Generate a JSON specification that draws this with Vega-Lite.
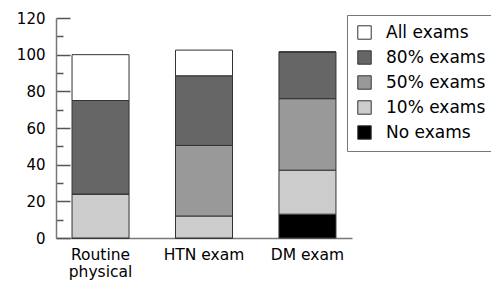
{
  "$schema": "https://vega.github.io/schema/vega-lite/v6.json",
  "autosize": {"type": "none"},
  "padding": {"left": 56, "top": 18, "right": 139, "bottom": 45},
  "width": 296,
  "height": 220,
  "background": "white",
  "config": {"view": {"stroke": null}, "font": "DejaVu Sans"},
  "data": {"values": [
    {"cat": "Routine physical", "level": "No exams", "ord": 1, "pct": 0},
    {"cat": "Routine physical", "level": "10% exams", "ord": 2, "pct": 24},
    {"cat": "Routine physical", "level": "50% exams", "ord": 3, "pct": 0},
    {"cat": "Routine physical", "level": "80% exams", "ord": 4, "pct": 51},
    {"cat": "Routine physical", "level": "All exams", "ord": 5, "pct": 25},
    {"cat": "HTN exam", "level": "No exams", "ord": 1, "pct": 0},
    {"cat": "HTN exam", "level": "10% exams", "ord": 2, "pct": 12},
    {"cat": "HTN exam", "level": "50% exams", "ord": 3, "pct": 38.5},
    {"cat": "HTN exam", "level": "80% exams", "ord": 4, "pct": 38},
    {"cat": "HTN exam", "level": "All exams", "ord": 5, "pct": 14},
    {"cat": "DM exam", "level": "No exams", "ord": 1, "pct": 13},
    {"cat": "DM exam", "level": "10% exams", "ord": 2, "pct": 24},
    {"cat": "DM exam", "level": "50% exams", "ord": 3, "pct": 39},
    {"cat": "DM exam", "level": "80% exams", "ord": 4, "pct": 25.5},
    {"cat": "DM exam", "level": "All exams", "ord": 5, "pct": 0}
  ]},
  "mark": {"type": "bar", "stroke": "#333", "strokeWidth": 1},
  "encoding": {
    "x": {
      "field": "cat", "type": "nominal", "sort": null,
      "scale": {"paddingInner": 0.449, "paddingOuter": 0.155},
      "axis": {
        "title": null, "labelAngle": 0, "ticks": false, "domainColor": "#777", "domainWidth": 1.5,
        "labelFont": "DejaVu Sans", "labelFontSize": 15.5, "labelColor": "#000", "labelPadding": 9,
        "labelExpr": "datum.label == 'Routine physical' ? ['Routine', 'physical'] : datum.label",
        "labelLineHeight": 17
      }
    },
    "y": {
      "field": "pct", "type": "quantitative", "stack": "zero",
      "scale": {"domain": [0, 120], "nice": false},
      "axis": {
        "title": null, "grid": false,
        "values": [0, 10, 20, 30, 40, 50, 60, 70, 80, 90, 100, 110, 120],
        "labelExpr": "datum.value % 20 === 0 ? datum.label : ''",
        "tickSize": {"condition": {"test": "datum.value % 20 === 0", "value": -14}, "value": -7},
        "tickColor": "#555", "tickWidth": 1.5,
        "domainColor": "#777", "domainWidth": 1.5,
        "labelFont": "DejaVu Sans", "labelFontSize": 15, "labelColor": "#000",
        "labelPadding": 25
      }
    },
    "color": {
      "field": "level", "type": "nominal",
      "scale": {
        "domain": ["All exams", "80% exams", "50% exams", "10% exams", "No exams"],
        "range": ["#ffffff", "#666666", "#999999", "#cccccc", "#000000"]
      },
      "legend": {
        "title": null, "orient": "none", "legendX": 291, "legendY": -3,
        "symbolType": "square", "symbolSize": 180, "symbolStrokeColor": "#333", "symbolStrokeWidth": 1,
        "labelFont": "DejaVu Sans", "labelFontSize": 17, "labelColor": "#000", "labelOffset": 13,
        "rowPadding": 6, "padding": 9, "strokeColor": "#777", "fillColor": "white"
      }
    },
    "order": {"field": "ord", "type": "quantitative"}
  }
}
